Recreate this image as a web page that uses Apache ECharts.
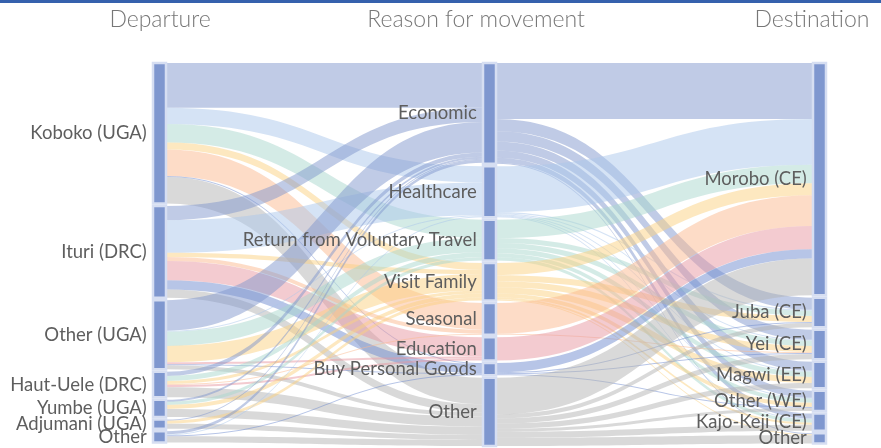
<html>
<head>
<meta charset="utf-8"/>
<title>Movement sankey</title>
<script src="https://cdn.jsdelivr.net/npm/echarts@6/dist/echarts.min.js"></script>
<style>
  body { margin: 0; padding: 0; background: #fff; }
  #chart { width: 881px; height: 448px; }
</style>
</head>
<body>
<div id="chart"></div>
<script type="text/javascript">
// nodes of each column, top to bottom
let departures = ['Koboko (UGA)', 'Ituri (DRC)', 'Other (UGA)', 'Haut-Uele (DRC)', 'Yumbe (UGA)', 'Adjumani (UGA)', 'Other'];
let reasons = ['Economic', 'Healthcare', 'Return from Voluntary Travel', 'Visit Family', 'Seasonal', 'Education', 'Buy Personal Goods', 'Other'];
let destinations = ['Morobo (CE)', 'Juba (CE)', 'Yei (CE)', 'Magwi (EE)', 'Other (WE)', 'Kajo-Keji (CE)', 'Other'];

// departure -> reason (rows: departures, cols: reasons)
let departureToReason = [
  [44, 16, 18, 7, 26, 0, 1, 26],
  [14, 32, 0, 4, 4, 19, 9, 8],
  [30, 1, 14, 16, 0, 2, 1, 4],
  [4, 0, 5, 3, 1, 2, 0, 10],
  [2, 0, 3, 4, 0, 0, 0, 8],
  [1, 0, 0, 3, 0, 0, 0, 5],
  [3, 1, 0, 0, 0, 0, 1, 6]
];

// reason -> destination (rows: reasons, cols: destinations)
let reasonToDestination = [
  [55, 12, 10, 9, 7, 5, 1],
  [45, 1, 1, 1, 1, 1, 0],
  [18, 5, 5, 5, 4, 3, 0],
  [12, 6, 6, 6, 4, 2, 1],
  [30, 0, 1, 0, 0, 0, 0],
  [23, 0, 0, 0, 0, 0, 0],
  [9, 1, 1, 0, 1, 0, 0],
  [36, 4, 5, 5, 3, 6, 8]
];

let columnTitles = ['Departure', 'Reason for movement', 'Destination'];

// link colour per reason
let reasonColors = ['#8198cd', '#abc7eb', '#a9d7cd', '#fbd181', '#fbb98f', '#e797a1', '#6f8bd0', '#b3b3b3'];

let nodes = [];
departures.forEach((n, i) => nodes.push({id: 'd' + i, name: n}));
reasons.forEach((n, i) => nodes.push({id: 'r' + i, name: n}));
destinations.forEach((n, i) => nodes.push({id: 'x' + i, name: n}));

let links = [];
departureToReason.forEach((row, i) => {
  row.forEach((v, j) => {
    if (v > 0) {
      links.push({source: 'd' + i, target: 'r' + j, value: v, lineStyle: {color: reasonColors[j]}});
    }
  });
});
reasonToDestination.forEach((row, i) => {
  row.forEach((v, j) => {
    if (v > 0) {
      links.push({source: 'r' + i, target: 'x' + j, value: v, lineStyle: {color: reasonColors[i]}});
    }
  });
});

let chart = echarts.init(document.getElementById('chart'), null, {renderer: 'canvas'});

let titleX = [160, 476, 812];

chart.setOption({
  animation: false,
  graphic: [
    {
      type: 'rect',
      left: 0,
      top: 0,
      shape: {width: 881, height: 3},
      style: {fill: '#3561ad'}
    }
  ].concat(columnTitles.map((t, i) => {
    return {
      type: 'text',
      x: titleX[i],
      y: 20,
      style: {
        text: t,
        fill: '#777777',
        font: '300 23px Lato',
        textAlign: 'center',
        textVerticalAlign: 'middle'
      }
    };
  })),
  series: [
    {
      type: 'sankey',
      left: 153,
      right: 55,
      top: 63,
      bottom: 2,
      nodeWidth: 13,
      nodeGap: 2.5,
      layoutIterations: 0,
      draggable: false,
      emphasis: {disabled: true},
      itemStyle: {
        color: '#7f97cf',
        borderColor: '#d6def2',
        borderWidth: 2.5
      },
      lineStyle: {
        opacity: 0.5,
        curveness: 0.5
      },
      label: {
        position: 'left',
        distance: 5,
        color: '#5e5e5e',
        fontFamily: 'Lato',
        fontSize: 18.5,
        formatter: (p) => p.data.name
      },
      data: nodes,
      links: links
    }
  ]
});
</script>
</body>
</html>
